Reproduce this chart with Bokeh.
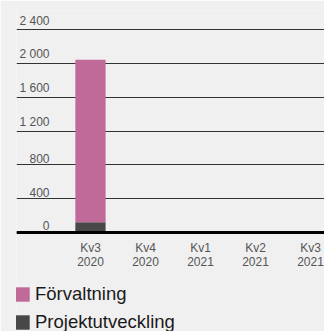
from bokeh.plotting import figure
from bokeh.models import (ColumnDataSource, Range1d, FixedTicker, Legend, LegendItem, Span)
from bokeh.core.properties import value
from bokeh.embed import file_html
from bokeh.resources import INLINE

categories = ["Kv3\n2020", "Kv4\n2020", "Kv1\n2021", "Kv2\n2021", "Kv3\n2021"]
forvaltning = [1925, 0, 0, 0, 0]
projektutveckling = [120, 0, 0, 0, 0]
y_ticks = [0, 400, 800, 1200, 1600, 2000, 2400]
y_tick_labels = [f"{v:,}".replace(",", " ") for v in y_ticks]

BG = "#f0f0f0"
PINK = "#bf6a98"
DARK = "#484848"
FONT = "Liberation Sans"

xs = list(range(len(categories)))
src = ColumnDataSource(dict(x=xs, proj=projektutveckling, forv=forvaltning,
                            zero=[0] * len(xs), lab=categories))

x_start, x_end = -1.345, 4.255
p = figure(frame_width=308, frame_height=321, output_backend="svg", toolbar_location=None,
           x_range=Range1d(x_start, x_end), y_range=Range1d(-1172, 2627),
           min_border_left=16, min_border_right=0, min_border_top=10,
           min_border_bottom=0,
           background_fill_color=BG, border_fill_color=BG)
p.outline_line_color = None

rs = p.vbar_stack(["proj", "forv"], x="x", width=0.55, color=[DARK, PINK],
                  source=src, line_color=None)

p.xaxis.visible = False
p.yaxis.visible = False
p.xgrid.visible = False
p.ygrid.ticker = FixedTicker(ticks=y_ticks)
p.ygrid.grid_line_color = "#333333"
p.ygrid.grid_line_width = 1

p.add_layout(Span(location=0, dimension="width", line_color="black", line_width=3))

# x category labels
p.text(x="x", y="zero", text="lab", source=src, y_offset=9,
       text_align="center", text_baseline="top", text_line_height=0.95,
       text_font=value(FONT), text_font_size="12px", text_color="#555555")

# y tick labels above grid lines
lsrc = ColumnDataSource(dict(x=[x_start] * len(y_ticks), y=y_ticks, t=y_tick_labels))
p.text(x="x", y="y", text="t", source=lsrc, x_offset=33, y_offset=-2,
       text_align="right", text_baseline="bottom",
       text_font=value(FONT), text_font_size="12px", text_color="#555555")

legend = Legend(items=[LegendItem(label="Förvaltning", renderers=[rs[1]]),
                       LegendItem(label="Projektutveckling", renderers=[rs[0]])],
                orientation="vertical", location=(-3, -2),
                glyph_width=18, glyph_height=18, label_height=22,
                spacing=6, padding=0, margin=0, label_standoff=4,
                label_text_font=FONT, label_text_font_size="18.5px",
                label_text_color="#1a1a1a",
                border_line_color=None, background_fill_color=BG,
                background_fill_alpha=0)
p.add_layout(legend, "center")

open("out.html", "w").write(file_html(p, INLINE))
